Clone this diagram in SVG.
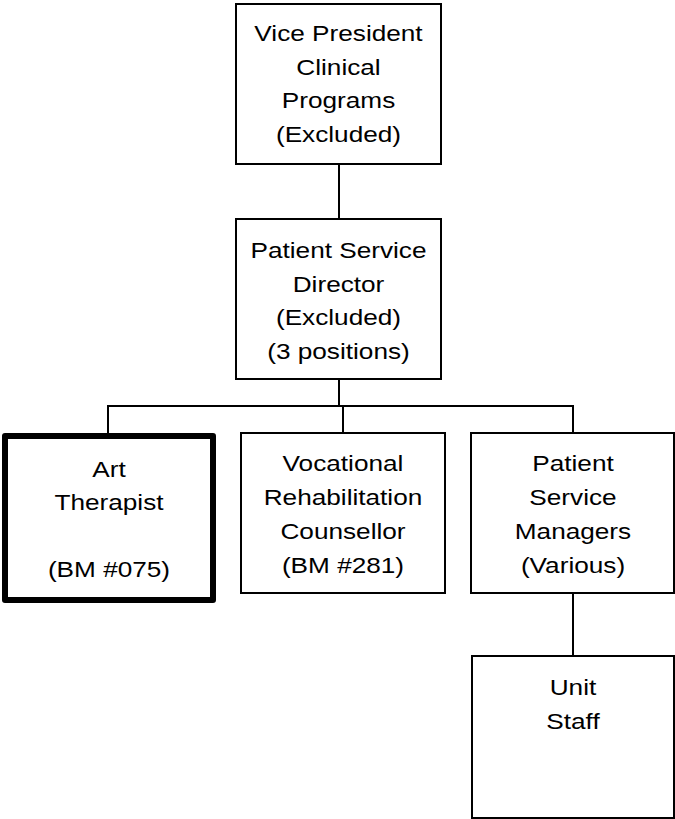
<svg xmlns="http://www.w3.org/2000/svg" width="675" height="819" viewBox="0 0 675 819">
<style>
.box{fill:#fff;stroke:#000;stroke-width:2}
.thick{fill:#fff;stroke:#000;stroke-width:6;stroke-linejoin:round}
.t{font-family:"Liberation Sans",Arial,sans-serif;font-size:22px;fill:#000;text-anchor:middle}
.c{fill:none;stroke:#000;stroke-width:2}
</style>
<rect width="675" height="819" fill="#fff"/>
<g id="connectors">
<line class="c" x1="339" y1="164" x2="339" y2="219"/>
<line class="c" x1="339" y1="379" x2="339" y2="406"/>
<polyline class="c" points="108,433 108,406 573,406 573,433"/>
<line class="c" x1="343" y1="406" x2="343" y2="433"/>
<line class="c" x1="573" y1="593" x2="573" y2="656"/>
</g>
<g id="vp">
<rect class="box" x="236" y="4" width="205" height="160"/>
<g transform="matrix(1.19,0,0,1,-64.3,0)">
<text class="t" x="338.5" y="41">Vice President</text>
<text class="t" x="338.5" y="75">Clinical</text>
<text class="t" x="338.5" y="108">Programs</text>
<text class="t" x="338.5" y="142">(Excluded)</text>
</g>
</g>
<g id="psd">
<rect class="box" x="236" y="219" width="205" height="160"/>
<g transform="matrix(1.19,0,0,1,-64.3,0)">
<text class="t" x="338.5" y="258">Patient Service</text>
<text class="t" x="338.5" y="292">Director</text>
<text class="t" x="338.5" y="325">(Excluded)</text>
<text class="t" x="338.5" y="359">(3 positions)</text>
</g>
</g>
<g id="art">
<rect class="thick" x="5" y="436" width="208" height="164"/>
<g transform="matrix(1.19,0,0,1,-20.7,0)">
<text class="t" x="109" y="477">Art</text>
<text class="t" x="109" y="510">Therapist</text>
<text class="t" x="109" y="577">(BM #075)</text>
</g>
</g>
<g id="voc">
<rect class="box" x="241" y="433" width="204" height="160"/>
<g transform="matrix(1.19,0,0,1,-65.17,0)">
<text class="t" x="343" y="471">Vocational</text>
<text class="t" x="343" y="505">Rehabilitation</text>
<text class="t" x="343" y="539">Counsellor</text>
<text class="t" x="343" y="573">(BM #281)</text>
</g>
</g>
<g id="psm">
<rect class="box" x="471" y="433" width="203" height="160"/>
<g transform="matrix(1.19,0,0,1,-108.87,0)">
<text class="t" x="573" y="471">Patient</text>
<text class="t" x="573" y="505">Service</text>
<text class="t" x="573" y="539">Managers</text>
<text class="t" x="573" y="573">(Various)</text>
</g>
</g>
<g id="unit">
<rect class="box" x="472" y="656" width="202" height="162"/>
<g transform="matrix(1.19,0,0,1,-108.87,0)">
<text class="t" x="573" y="695">Unit</text>
<text class="t" x="573" y="729">Staff</text>
</g>
</g>
</svg>
